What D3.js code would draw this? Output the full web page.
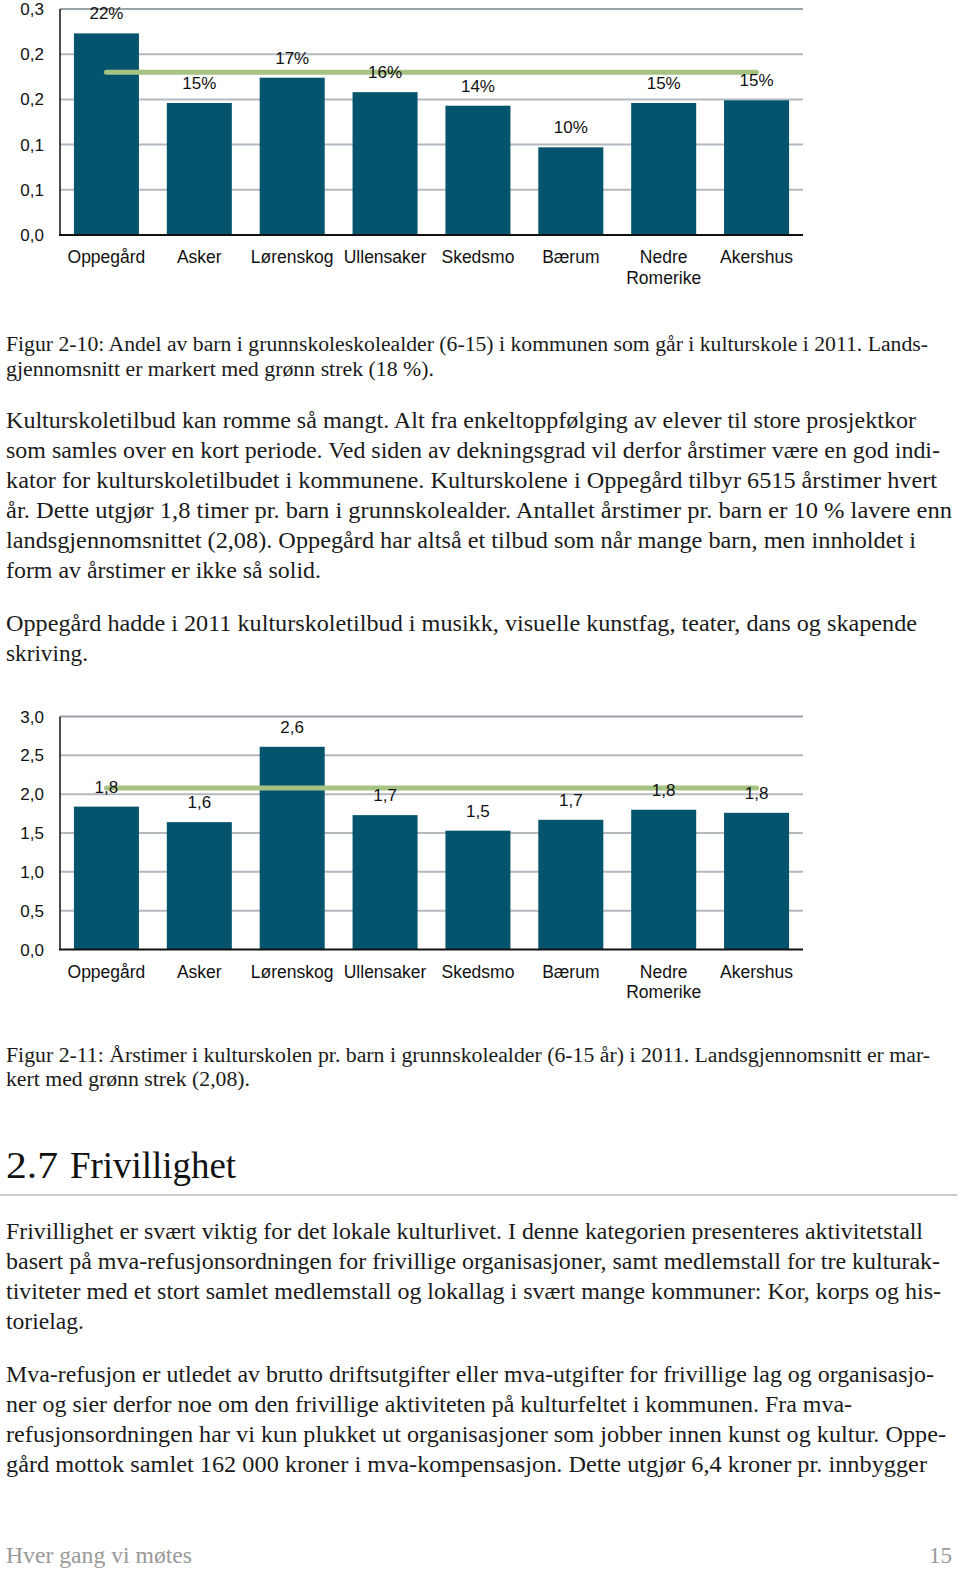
<!DOCTYPE html>
<html>
<head>
<meta charset="utf-8">
<script src="https://cdn.jsdelivr.net/npm/d3@7"></script>
<style>
  html, body { margin: 0; padding: 0; background: #fff; }
  svg { display: block; }
</style>
</head>
<body>
<svg id="page" width="960" height="1569"></svg>
<script>
// ---------- DATA ----------
const categories = ["Oppegård", "Asker", "Lørenskog", "Ullensaker", "Skedsmo", "Bærum", "Nedre\nRomerike", "Akershus"];

// Figure 2-10: share of children in culture school
const shareValues = [0.223, 0.146, 0.174, 0.158, 0.143, 0.097, 0.146, 0.149];
const shareNational = 0.18;
const shareTickValues = [0, 0.05, 0.10, 0.15, 0.20, 0.25];
const shareTickLabels = ["0,0", "0,1", "0,1", "0,2", "0,2", "0,3"];

// Figure 2-11: yearly hours per child
const hoursValues = [1.84, 1.64, 2.61, 1.73, 1.53, 1.67, 1.80, 1.76];
const hoursNational = 2.08;
const hoursTickValues = [0, 0.5, 1.0, 1.5, 2.0, 2.5, 3.0];
const hoursTickLabels = ["0,0", "0,5", "1,0", "1,5", "2,0", "2,5", "3,0"];

// Text content
const caption1 = [
  "Figur 2-10: Andel av barn i grunnskoleskolealder (6-15) i kommunen som går i kulturskole i 2011. Lands-",
  "gjennomsnitt er markert med grønn strek (18 %)."
];
const para1 = [
  "Kulturskoletilbud kan romme så mangt. Alt fra enkeltoppfølging av elever til store prosjektkor",
  "som samles over en kort periode. Ved siden av dekningsgrad vil derfor årstimer være en god indi-",
  "kator for kulturskoletilbudet i kommunene. Kulturskolene i Oppegård tilbyr 6515 årstimer hvert",
  "år. Dette utgjør 1,8 timer pr. barn i grunnskolealder. Antallet årstimer pr. barn er 10 % lavere enn",
  "landsgjennomsnittet (2,08). Oppegård har altså et tilbud som når mange barn, men innholdet i",
  "form av årstimer er ikke så solid."
];
const para2 = [
  "Oppegård hadde i 2011 kulturskoletilbud i musikk, visuelle kunstfag, teater, dans og skapende",
  "skriving."
];
const caption2 = [
  "Figur 2-11: Årstimer i kulturskolen pr. barn i grunnskolealder (6-15 år) i 2011. Landsgjennomsnitt er mar-",
  "kert med grønn strek (2,08)."
];
const headingNum = "2.7";
const headingText = "Frivillighet";
const para3 = [
  "Frivillighet er svært viktig for det lokale kulturlivet. I denne kategorien presenteres aktivitetstall",
  "basert på mva-refusjonsordningen for frivillige organisasjoner, samt medlemstall for tre kulturak-",
  "tiviteter med et stort samlet medlemstall og lokallag i svært mange kommuner: Kor, korps og his-",
  "torielag."
];
const para4 = [
  "Mva-refusjon er utledet av brutto driftsutgifter eller mva-utgifter for frivillige lag og organisasjo-",
  "ner og sier derfor noe om den frivillige aktiviteten på kulturfeltet i kommunen. Fra mva-",
  "refusjonsordningen har vi kun plukket ut organisasjoner som jobber innen kunst og kultur. Oppe-",
  "gård mottok samlet 162 000 kroner i mva-kompensasjon. Dette utgjør 6,4 kroner pr. innbygger"
];
const footerLeft = "Hver gang vi møtes";
const footerRight = "15";

// ---------- LAYOUT ----------
const svg = d3.select("#page");
svg.append("rect").attr("width", 960).attr("height", 1569).attr("fill", "#fff");

const BAR = "#04546e", GREEN = "#a7c384", GRID = "#b3b9bf";
const sansFont = "'Liberation Sans', Arial, Helvetica, sans-serif";
const serifFont = "'Liberation Serif', 'Times New Roman', serif";

function drawChart(cfg) {
  const g = svg.append("g");
  const x = d3.scaleBand().domain(categories).range([60, 803]).paddingInner(0.3).paddingOuter(0.15);
  const y = d3.scaleLinear().domain(cfg.domain).range([cfg.bottom, cfg.top]);

  // gridlines
  g.selectAll("line.grid").data(cfg.ticks.slice(1)).join("line")
    .attr("x1", 60).attr("x2", 803)
    .attr("y1", d => y(d)).attr("y2", d => y(d))
    .attr("stroke", (d, i, a) => i === a.length - 1 ? "#9aa2aa" : GRID)
    .attr("stroke-width", 2);

  // bars
  g.selectAll("rect.bar").data(cfg.values).join("rect")
    .attr("x", (d, i) => x(categories[i]))
    .attr("width", x.bandwidth())
    .attr("y", d => y(d))
    .attr("height", d => y(0) - y(d))
    .attr("fill", BAR);

  // national average line
  const xs = x(categories[0]) + x.bandwidth() / 2;
  const xe = x(categories[categories.length - 1]) + x.bandwidth() / 2;
  g.append("line").attr("x1", xs).attr("x2", xe)
    .attr("y1", y(cfg.national)).attr("y2", y(cfg.national))
    .attr("stroke", GREEN).attr("stroke-width", 5).attr("stroke-linecap", "round");

  // value labels
  g.selectAll("text.val").data(cfg.values).join("text")
    .attr("x", (d, i) => x(categories[i]) + x.bandwidth() / 2)
    .attr("y", d => y(d) - 14)
    .attr("text-anchor", "middle")
    .attr("font-family", sansFont).attr("font-size", 17).attr("fill", "#111")
    .text(cfg.fmt);

  // axes lines
  g.append("line").attr("x1", 60).attr("x2", 60).attr("y1", cfg.top).attr("y2", y(0))
    .attr("stroke", "#111").attr("stroke-width", 1.5);
  g.append("line").attr("x1", 59).attr("x2", 803).attr("y1", y(0)).attr("y2", y(0))
    .attr("stroke", "#111").attr("stroke-width", 2);

  // y tick labels
  g.selectAll("text.tick").data(cfg.ticks).join("text")
    .attr("x", 44).attr("y", d => y(d) + 6)
    .attr("text-anchor", "end")
    .attr("font-family", sansFont).attr("font-size", 17).attr("fill", "#111")
    .text((d, i) => cfg.tickLabels[i]);

  // category labels
  const cat = g.selectAll("text.cat").data(categories).join("text")
    .attr("x", d => x(d) + x.bandwidth() / 2)
    .attr("y", y(0) + 28)
    .attr("text-anchor", "middle")
    .attr("font-family", sansFont).attr("font-size", 17.5).attr("fill", "#111");
  cat.each(function (d) {
    const parts = d.split("\n");
    d3.select(this).selectAll("tspan").data(parts).join("tspan")
      .attr("x", x(d) + x.bandwidth() / 2)
      .attr("dy", (p, j) => j === 0 ? 0 : 20.5)
      .text(p => p);
  });
}

drawChart({
  values: shareValues, national: shareNational, domain: [0, 0.25],
  top: 9, bottom: 235, ticks: shareTickValues, tickLabels: shareTickLabels,
  fmt: d => Math.round(d * 100) + "%"
});
drawChart({
  values: hoursValues, national: hoursNational, domain: [0, 3],
  top: 716.5, bottom: 949.5, ticks: hoursTickValues, tickLabels: hoursTickLabels,
  fmt: d => d.toFixed(1).replace(".", ",")
});

// ---------- TEXT ----------
function block(lines, widths, y0, lh, size, color) {
  lines.forEach((t, i) => {
    svg.append("text")
      .attr("x", 6).attr("y", y0 + i * lh)
      .attr("font-family", serifFont).attr("font-size", size).attr("fill", color || "#1a1a1a")
      .attr("textLength", widths[i] - 6).attr("lengthAdjust", "spacingAndGlyphs")
      .text(t);
  });
}
block(caption1, [928, 434], 351, 25, 20.5);
block(para1, [916, 940, 937, 952, 916, 321], 428, 30, 23.5);
block(para2, [917, 88], 631, 30, 23.5);
block(caption2, [930, 250], 1062, 24, 20.5);

svg.append("text").attr("x", 6).attr("y", 1178)
  .attr("font-family", serifFont).attr("font-size", 37).attr("fill", "#111")
  .attr("textLength", 52).attr("lengthAdjust", "spacingAndGlyphs").text(headingNum);
svg.append("text").attr("x", 70).attr("y", 1178)
  .attr("font-family", serifFont).attr("font-size", 37).attr("fill", "#111")
  .attr("textLength", 166).attr("lengthAdjust", "spacingAndGlyphs").text(headingText);
svg.append("line").attr("x1", 0).attr("x2", 957).attr("y1", 1195).attr("y2", 1195)
  .attr("stroke", "#9a9a9a").attr("stroke-width", 1.2);

block(para3, [923, 940, 941, 84], 1239, 30, 23.5);
block(para4, [934, 852, 946, 927], 1382, 30, 23.5);

svg.append("text").attr("x", 6).attr("y", 1563)
  .attr("font-family", serifFont).attr("font-size", 23).attr("fill", "#999")
  .attr("textLength", 186).attr("lengthAdjust", "spacingAndGlyphs").text(footerLeft);
svg.append("text").attr("x", 952).attr("y", 1563).attr("text-anchor", "end")
  .attr("font-family", serifFont).attr("font-size", 23).attr("fill", "#999")
  .text(footerRight);
</script>
</body>
</html>
